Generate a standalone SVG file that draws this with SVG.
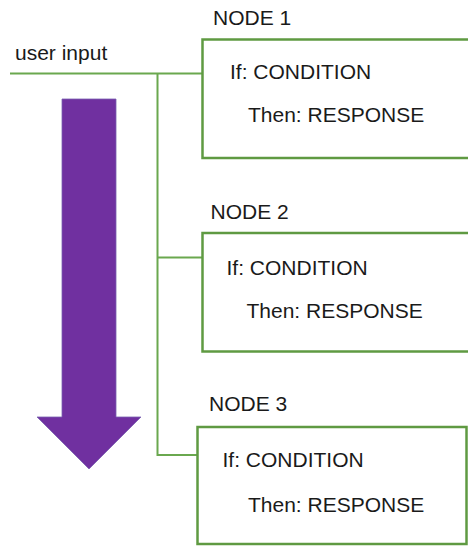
<svg xmlns="http://www.w3.org/2000/svg" width="468" height="546" viewBox="0 0 468 546">
<style>
text{font-family:"Liberation Sans",Arial,sans-serif;font-size:21px;fill:#1a1a1a}
.box{fill:#fff;stroke:#5f9a42;stroke-width:2.5}
.conn{fill:none;stroke:#6aa84f;stroke-width:2}
</style>
<rect width="468" height="546" fill="#fff"/>
<g id="arrow">
<polygon points="62,99 116,99 116,417 141,417 89,469 37,417 62,417" fill="#7030a0" stroke="#7a5fb0" stroke-width="0.8"/>
</g>
<g id="user-input">
<text x="15" y="60">user input</text>
</g>
<g id="connectors">
<path class="conn" d="M10,73.5 H203 M157.5,73.5 V455 H198 M157.5,257.5 H203"/>
</g>
<g id="node1">
<text x="213" y="25">NODE 1</text>
<rect class="box" x="202.5" y="39.5" width="280" height="118.5"/>
<text x="230" y="79">If: CONDITION</text>
<text x="248" y="121.5">Then: RESPONSE</text>
</g>
<g id="node2">
<text x="210.5" y="219">NODE 2</text>
<rect class="box" x="202.5" y="233" width="280" height="118.5"/>
<text x="226.5" y="275">If: CONDITION</text>
<text x="246.5" y="318">Then: RESPONSE</text>
</g>
<g id="node3">
<text x="209" y="410.5">NODE 3</text>
<rect class="box" x="197.5" y="427" width="269" height="117"/>
<text x="222.5" y="467">If: CONDITION</text>
<text x="248" y="511.5">Then: RESPONSE</text>
</g>
</svg>
